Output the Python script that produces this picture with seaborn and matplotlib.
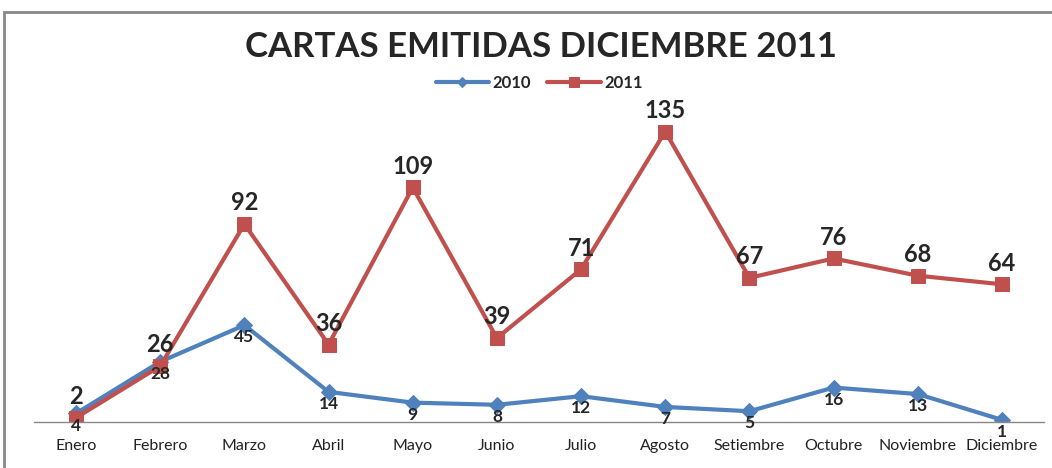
import numpy as np
import pandas as pd
import seaborn as sns
import matplotlib.pyplot as plt
from matplotlib.patches import Rectangle

meses = ['Enero', 'Febrero', 'Marzo', 'Abril', 'Mayo', 'Junio', 'Julio',
         'Agosto', 'Setiembre', 'Octubre', 'Noviembre', 'Diciembre']
v2010 = [4, 28, 45, 14, 9, 8, 12, 7, 5, 16, 13, 1]
v2011 = [2, 26, 92, 36, 109, 39, 71, 135, 67, 76, 68, 64]

azul = '#4F81BD'
rojo = '#C0504D'

sns.set_style("white")
plt.rcParams['font.family'] = ['Lato', 'DejaVu Sans']

fig = plt.figure(figsize=(10.52, 4.68), dpi=100)
ax = fig.add_axes([34 / 1052, 46 / 468, 1010 / 1052, 312 / 468])

x = np.arange(len(meses))
sns.lineplot(x=x, y=v2010, ax=ax, color=azul, lw=3, marker='D', ms=8,
             mec=azul, label='2010')
sns.lineplot(x=x, y=v2011, ax=ax, color=rojo, lw=3, marker='s', ms=10,
             mec=rojo, label='2011')

# etiquetas de datos
for i in x:
    ax.annotate(str(v2011[i]), (i, v2011[i]), xytext=(0, 7), textcoords='offset points',
                ha='center', va='bottom', fontsize=17, fontweight='bold')
    ax.annotate(str(v2010[i]), (i, v2010[i]), xytext=(0, -3), textcoords='offset points',
                ha='center', va='top', fontsize=12.5, fontweight='bold')

ax.set_xlim(-0.5, 11.5)
ax.set_ylim(0, 145)
ax.set_xticks(x)
ax.set_xticklabels(meses, fontsize=11.5, color='#222222')
ax.set_yticks([])
ax.tick_params(axis='x', length=0, pad=12.5)
for s in ['top', 'right', 'left']:
    ax.spines[s].set_visible(False)
ax.spines['bottom'].set_color('#888888')
ax.spines['bottom'].set_linewidth(1)

leg = ax.legend(loc='center', bbox_to_anchor=(0.5, 1 + (110 - 83) / 312), ncol=2, frameon=False,
                prop={'weight': 'bold', 'size': 12}, handlelength=3.2, columnspacing=1,
                handletextpad=0.2, markerscale=0.7)

fig.text(541 / 1052, 1 - 47 / 468, 'CARTAS EMITIDAS DICIEMBRE 2011', ha='center', va='center',
         fontsize=25, fontweight='bold')

fig.patches.append(Rectangle((4 / 1052, -0.1), 1.2, 1 - 12 / 468 + 0.1, transform=fig.transFigure,
                             fill=False, edgecolor='#888888', lw=2))

plt.savefig('out.png', dpi=100)
